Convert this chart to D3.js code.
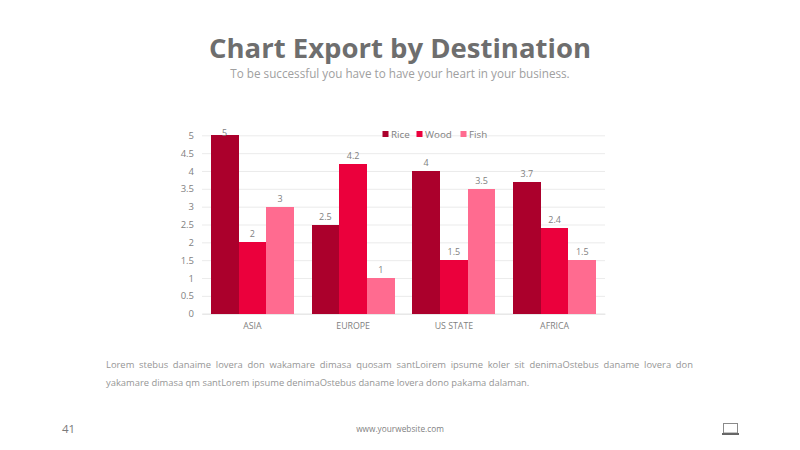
<!DOCTYPE html>
<html>
<head>
<meta charset="utf-8">
<script src="https://d3js.org/d3.v7.min.js"></script>
<style>
  html, body { margin: 0; padding: 0; background: #fff; }
  #slide { position: relative; width: 800px; height: 450px; overflow: hidden; font-family: "Open Sans", "Noto Sans", sans-serif; }
  #slide svg { position: absolute; left: 0; top: 0; }
  #body-text {
    position: absolute; left: 106px; top: 356px; width: 587px; margin: 0;
    font-size: 9.4px; line-height: 18px; color: #969696; text-align: justify;
  }
</style>
</head>
<body>
<div id="slide">
  <svg id="chart" width="800" height="450"></svg>
  <p id="body-text"></p>
</div>
<script>
// chart data
const categories = ['ASIA', 'EUROPE', 'US STATE', 'AFRICA'];
const seriesNames = ['Rice', 'Wood', 'Fish'];
const rice = [5, 2.5, 4, 3.7];
const wood = [2, 4.2, 1.5, 2.4];
const fish = [3, 1, 3.5, 1.5];
const yTicks = [0, 0.5, 1, 1.5, 2, 2.5, 3, 3.5, 4, 4.5, 5];
const seriesColors = ['#ab002c', '#eb003c', '#ff6b90'];

const titleText = 'Chart Export by Destination';
const subtitleText = 'To be successful you have to have your heart in your business.';
const bodyText = 'Lorem stebus danaime lovera don wakamare dimasa quosam santLoirem ipsume koler sit denimaOstebus daname lovera don yakamare dimasa qm santLorem ipsume denimaOstebus daname lovera dono pakama dalaman.';
const pageNumber = '41';
const websiteText = 'www.yourwebsite.com';

const svg = d3.select('#chart');

// plot area
const LEFT = 202, RIGHT = 605, TOP = 135.3, BOTTOM = 313.7;

const x = d3.scaleBand().domain(categories).range([LEFT, RIGHT])
  .paddingInner(0.176).paddingOuter(0.088);
const xInner = d3.scaleBand().domain(seriesNames).range([0, x.bandwidth()]);
const y = d3.scaleLinear().domain([0, 5]).range([BOTTOM, TOP]);

// title block
svg.append('text').attr('x', 400).attr('y', 57.5)
  .attr('text-anchor', 'middle')
  .attr('font-size', 27.5).attr('font-weight', 700).attr('fill', '#6e6e6e')
  .text(titleText);
svg.append('text').attr('x', 400).attr('y', 77.7)
  .attr('text-anchor', 'middle')
  .attr('font-size', 11.7).attr('fill', '#a0a0a0')
  .text(subtitleText);

// y axis, tick lines stretched into gridlines
const yAxis = svg.append('g')
  .attr('transform', `translate(${LEFT},0)`)
  .call(d3.axisLeft(y).tickValues(yTicks).tickFormat(d => d)
    .tickSize(-(RIGHT - LEFT)).tickPadding(8));
yAxis.select('.domain').remove();
yAxis.selectAll('line').attr('stroke', '#e6e6e6').attr('stroke-width', 0.8);
yAxis.selectAll('text').attr('fill', '#7f7f7f').attr('font-size', 9.5)
  .attr('font-family', '"Open Sans", sans-serif');

// x axis
const xAxis = svg.append('g')
  .attr('transform', `translate(0,${BOTTOM})`)
  .call(d3.axisBottom(x).tickSize(0).tickPadding(9));
xAxis.select('.domain').attr('stroke', '#e0e0e0').attr('stroke-width', 0.8);
xAxis.selectAll('text').attr('fill', '#7f7f7f').attr('font-size', 8.8)
  .attr('font-family', '"Open Sans", sans-serif');

// bars and value labels
[rice, wood, fish].forEach((values, s) => {
  const g = svg.append('g').attr('class', 'series');
  const name = seriesNames[s];
  g.selectAll('rect').data(values).join('rect')
    .attr('x', (d, i) => x(categories[i]) + xInner(name))
    .attr('y', d => y(d))
    .attr('width', xInner.bandwidth())
    .attr('height', d => y(0) - y(d))
    .attr('fill', seriesColors[s])
    .attr('shape-rendering', 'crispEdges');
  // labels stay inside the plot, so the tallest bar's one sits on its top edge
  g.selectAll('text').data(values).join('text')
    .attr('x', (d, i) => x(categories[i]) + xInner(name) + xInner.bandwidth() / 2)
    .attr('y', d => Math.max(y(d) - 5, TOP + 0.7))
    .attr('text-anchor', 'middle')
    .attr('font-size', 9).attr('fill', '#7f7f7f')
    .text(d => d);
});

// legend
const legendX = [382.5, 416.5, 460.5];
const legend = svg.append('g').selectAll('g').data(seriesNames).join('g')
  .attr('transform', (d, i) => `translate(${legendX[i]},131)`);
legend.append('rect').attr('width', 6).attr('height', 6)
  .attr('fill', (d, i) => seriesColors[i]);
legend.append('text').attr('x', 8.5).attr('y', 7.2)
  .attr('font-size', 9.8).attr('fill', '#7f7f7f').text(d => d);

// paragraph
d3.select('#body-text').text(bodyText);

// footer
svg.append('text').attr('x', 62).attr('y', 433)
  .attr('font-size', 11.5).attr('fill', '#7a7a7a').text(pageNumber);
svg.append('text').attr('x', 400).attr('y', 432)
  .attr('text-anchor', 'middle')
  .attr('font-size', 8.3).attr('fill', '#7f7f7f').text(websiteText);

// laptop icon
const icon = svg.append('g').attr('transform', 'translate(722,423)');
icon.append('rect').attr('x', 1.5).attr('y', 0.5).attr('width', 14).attr('height', 9.5)
  .attr('fill', 'none').attr('stroke', '#8a8a8a').attr('stroke-width', 1);
icon.append('rect').attr('x', 0).attr('y', 10).attr('width', 17).attr('height', 2)
  .attr('fill', '#666');
</script>
</body>
</html>
